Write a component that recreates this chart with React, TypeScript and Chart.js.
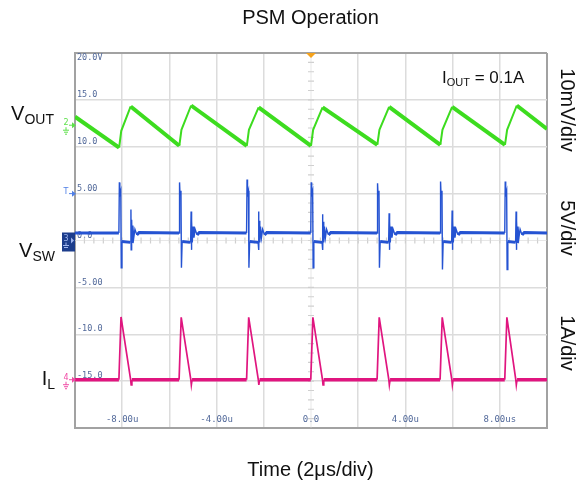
import React, { useEffect, useRef } from 'react';
import { Chart, registerables } from 'chart.js';

Chart.register(...registerables);

// ---- axis settings (oscilloscope screen: 10 x 8 divisions) ----
const xMin = -10;
const xMax = 10;
const yMin = -20;
const yMax = 20;
const xStep = 2;
const yStep = 5;

// tick labels shown on the screen
const xTickValues = [-8, -4, 0, 4, 8];
const xTickLabels = ['-8.00u', '-4.00u', '0.0', '4.00u', '8.00us'];
const yTickValues = [20, 15, 10, 5, 0, -5, -10, -15];
const yTickLabels = ['20.0V', '15.0', '10.0', '5.00', '0.0', '-5.00', '-10.0', '-15.0'];

// ---- traces: [time (us), screen value] ----
const vOutPoints: [number, number][] = [
  [-10, 13.2],
  [-8.13, 9.9], [-8.04, 11.7], [-7.64, 14.3],
  [-5.58, 10.1], [-5.49, 11.8], [-5.08, 14.4],
  [-2.72, 10.1], [-2.63, 11.8], [-2.22, 14.2],
  [0.0, 10.1], [0.09, 11.8], [0.49, 14.2],
  [2.81, 10.2], [2.9, 11.8], [3.31, 14.25],
  [5.48, 10.2], [5.57, 11.8], [5.98, 14.25],
  [8.22, 10.2], [8.31, 11.8], [8.72, 14.4],
  [10, 11.9],
];

const vSwPoints: [number, number][] = [
  [-10, 0.8],
  [-8.14, 0.8], [-8.12, 6.2], [-8.1, 4.9], [-8.06, 5.3], [-8.04, -2.9], [-8.01, -0.1], [-7.65, -0.2],
  [-7.63, 3.3], [-7.62, -1.0], [-7.6, 2.2], [-7.58, -0.2], [-7.55, 1.6], [-7.51, 0.3], [-7.46, 1.2], [-7.38, 0.6], [-7.28, 0.85],
  [-5.59, 0.8], [-5.57, 6.2], [-5.55, 4.9], [-5.51, 5.3], [-5.49, -2.9], [-5.46, -0.1], [-5.1, -0.2],
  [-5.08, 3.1], [-5.07, -1.0], [-5.05, 2.1], [-5.03, -0.2], [-5.0, 1.5], [-4.96, 0.3], [-4.91, 1.2], [-4.83, 0.6], [-4.73, 0.85],
  [-2.73, 0.8], [-2.71, 6.5], [-2.69, 4.9], [-2.65, 5.3], [-2.63, -2.9], [-2.6, -0.1], [-2.24, -0.2],
  [-2.22, 3.1], [-2.21, -1.0], [-2.19, 2.1], [-2.17, -0.2], [-2.14, 1.5], [-2.1, 0.3], [-2.05, 1.2], [-1.97, 0.6], [-1.87, 0.85],
  [-0.01, 0.8], [0.01, 6.2], [0.03, 4.9], [0.07, 5.3], [0.09, -2.9], [0.12, -0.1], [0.47, -0.2],
  [0.49, 2.8], [0.5, -1.0], [0.52, 2.0], [0.54, -0.2], [0.57, 1.5], [0.61, 0.3], [0.66, 1.2], [0.74, 0.6], [0.84, 0.85],
  [2.8, 0.8], [2.82, 6.1], [2.84, 4.9], [2.88, 5.3], [2.9, -2.9], [2.93, -0.1], [3.29, -0.2],
  [3.31, 2.9], [3.32, -1.0], [3.34, 2.0], [3.36, -0.2], [3.39, 1.5], [3.43, 0.3], [3.48, 1.2], [3.56, 0.6], [3.66, 0.85],
  [5.47, 0.8], [5.49, 6.3], [5.51, 4.9], [5.55, 5.3], [5.57, -3.1], [5.6, -0.1], [5.96, -0.2],
  [5.98, 3.2], [5.99, -1.0], [6.01, 2.1], [6.03, -0.2], [6.06, 1.5], [6.1, 0.3], [6.15, 1.2], [6.23, 0.6], [6.33, 0.85],
  [8.21, 0.8], [8.23, 6.3], [8.25, 4.9], [8.29, 5.3], [8.31, -3.1], [8.34, -0.1], [8.67, -0.2],
  [8.69, 3.1], [8.7, -1.0], [8.72, 2.1], [8.74, -0.2], [8.77, 1.5], [8.81, 0.3], [8.86, 1.2], [8.94, 0.6], [9.04, 0.85],
  [10, 0.8],
];

const iLPoints: [number, number][] = [
  [-10, -14.85],
  [-8.14, -14.85], [-8.05, -8.15], [-7.64, -14.9], [-7.62, -15.4], [-7.59, -14.85],
  [-5.59, -14.85], [-5.5, -8.2], [-5.09, -14.9], [-5.07, -15.4], [-5.04, -14.85],
  [-2.73, -14.85], [-2.64, -8.2], [-2.23, -14.9], [-2.21, -15.4], [-2.18, -14.85],
  [-0.01, -14.85], [0.08, -8.2], [0.49, -14.9], [0.51, -15.4], [0.54, -14.85],
  [2.8, -14.85], [2.89, -8.2], [3.3, -14.9], [3.32, -15.4], [3.35, -14.85],
  [5.47, -14.85], [5.56, -8.2], [5.97, -14.9], [5.99, -15.4], [6.02, -14.85],
  [8.21, -14.85], [8.3, -8.2], [8.68, -14.9], [8.7, -15.4], [8.73, -14.85],
  [10, -14.85],
];

// channel reference markers (screen levels)
const vOutMarkerLevel = 12.3;
const triggerLevel = 5;
const vSwMarkerLevel = 0;
const iLMarkerLevel = -14.85;

// ---- styles ----
const GREEN = '#3ddc1f';
const BLUE = '#2553d2';
const PINK = '#e0157f';
const GRID = '#dcdcdc';
const FRAME = '#a2a2a2';
const TICK_TEXT = '#52699a';
const SANS = "'Liberation Sans', Arial, Helvetica, sans-serif";

function slopeWidth(thick: number, thin: number) {
  return (ctx: any) => {
    const p0 = ctx.p0.parsed;
    const p1 = ctx.p1.parsed;
    const dx = Math.abs(p1.x - p0.x) || 1e-6;
    const slope = Math.abs(p1.y - p0.y) / dx;
    return slope < 4 ? thick : thin;
  };
}

const scopeDecor = {
  id: 'scopeDecor',
  beforeDatasetsDraw(chart: any) {
    const { ctx, scales } = chart;
    const x = scales.x;
    const y = scales.y;
    const cx = x.getPixelForValue(0);
    const cy = y.getPixelForValue(0);
    ctx.save();
    ctx.strokeStyle = '#cfcfcf';
    ctx.lineWidth = 1.2;
    ctx.beginPath();
    for (let v = yMin + 1; v < yMax; v += 1) {
      const py = y.getPixelForValue(v);
      ctx.moveTo(cx - 3, py);
      ctx.lineTo(cx + 3, py);
    }
    for (let k = 1; k < 50; k++) {
      const px = x.getPixelForValue(xMin + k * 0.4);
      ctx.moveTo(px, cy - 3);
      ctx.lineTo(px, cy + 3);
    }
    ctx.stroke();
    ctx.strokeStyle = 'rgba(215,215,215,0.6)';
    ctx.lineWidth = 1;
    ctx.beginPath();
    ctx.moveTo(cx, chart.chartArea.top);
    ctx.lineTo(cx, chart.chartArea.bottom);
    ctx.moveTo(chart.chartArea.left, cy);
    ctx.lineTo(chart.chartArea.right, cy);
    ctx.stroke();
    ctx.restore();
  },
  afterDraw(chart: any) {
    const { ctx, scales, chartArea } = chart;
    const x = scales.x;
    const y = scales.y;
    const left = chartArea.left;
    ctx.save();
    // trigger position marker at top
    const tx = x.getPixelForValue(0);
    ctx.fillStyle = '#f5a21c';
    ctx.beginPath();
    ctx.moveTo(tx - 5, chartArea.top);
    ctx.lineTo(tx + 5, chartArea.top);
    ctx.lineTo(tx, chartArea.top + 5);
    ctx.closePath();
    ctx.fill();

    const marker = (level: number, color: string, label: string, ground: boolean) => {
      const py = y.getPixelForValue(level);
      ctx.fillStyle = color;
      ctx.strokeStyle = color;
      ctx.lineWidth = 1;
      ctx.font = '8px "DejaVu Sans", sans-serif';
      ctx.textAlign = 'center';
      ctx.textBaseline = 'middle';
      ctx.fillText(label, left - 9, py - 2);
      ctx.beginPath();
      ctx.moveTo(left - 6, py);
      ctx.lineTo(left - 2, py);
      ctx.stroke();
      ctx.beginPath();
      ctx.moveTo(left + 1, py);
      ctx.lineTo(left - 3, py - 3);
      ctx.lineTo(left - 3, py + 3);
      ctx.closePath();
      ctx.fill();
      if (ground) {
        ctx.beginPath();
        ctx.moveTo(left - 9, py + 2);
        ctx.lineTo(left - 9, py + 5);
        ctx.moveTo(left - 12, py + 5);
        ctx.lineTo(left - 6, py + 5);
        ctx.moveTo(left - 11, py + 7);
        ctx.lineTo(left - 7, py + 7);
        ctx.moveTo(left - 10, py + 9);
        ctx.lineTo(left - 8, py + 9);
        ctx.stroke();
      }
    };

    marker(vOutMarkerLevel, '#5de04a', '2', true);
    marker(triggerLevel, '#4f7fe6', 'T', false);

    // channel 3 boxed marker
    const p3 = y.getPixelForValue(vSwMarkerLevel);
    ctx.fillStyle = '#1c3d8c';
    ctx.fillRect(left - 13, p3 - 8, 13, 19);
    ctx.fillStyle = '#9fb6ee';
    ctx.strokeStyle = '#9fb6ee';
    ctx.font = '8px "DejaVu Sans", sans-serif';
    ctx.textAlign = 'center';
    ctx.textBaseline = 'middle';
    ctx.fillText('3', left - 9, p3 - 2);
    ctx.lineWidth = 1;
    ctx.beginPath();
    ctx.moveTo(left - 9, p3 + 2);
    ctx.lineTo(left - 9, p3 + 5);
    ctx.moveTo(left - 12, p3 + 5);
    ctx.lineTo(left - 6, p3 + 5);
    ctx.moveTo(left - 11, p3 + 7);
    ctx.lineTo(left - 7, p3 + 7);
    ctx.stroke();
    ctx.beginPath();
    ctx.moveTo(left - 1, p3);
    ctx.lineTo(left - 4, p3 - 3);
    ctx.lineTo(left - 4, p3 + 3);
    ctx.closePath();
    ctx.fill();

    marker(iLMarkerLevel, '#f04aa5', '4', true);
    ctx.restore();
  },
};

export default function App() {
  const canvasRef = useRef<HTMLCanvasElement>(null);

  useEffect(() => {
    const canvas = canvasRef.current;
    if (!canvas) return;
    const toXY = (pts: [number, number][]) => pts.map(([x, y]) => ({ x, y }));
    const chart = new Chart(canvas, {
      type: 'line',
      data: {
        datasets: [
          {
            label: 'VOUT',
            data: toXY(vOutPoints),
            borderColor: GREEN,
            borderWidth: 4,
            pointRadius: 0,
            tension: 0,
            segment: { borderWidth: slopeWidth(4, 2) },
          },
          {
            label: 'VSW',
            data: toXY(vSwPoints),
            borderColor: BLUE,
            borderWidth: 3,
            pointRadius: 0,
            tension: 0,
            segment: { borderWidth: slopeWidth(3, 1.4) },
          },
          {
            label: 'IL',
            data: toXY(iLPoints),
            borderColor: PINK,
            borderWidth: 3.5,
            pointRadius: 0,
            tension: 0,
            segment: { borderWidth: slopeWidth(3.5, 1.7) },
          },
        ],
      },
      options: {
        animation: false,
        responsive: false,
        maintainAspectRatio: false,
        events: [],
        layout: { padding: { left: 75, top: 53, right: 37, bottom: 58 } },
        plugins: {
          legend: { display: false },
          tooltip: { enabled: false },
          title: { display: false },
        },
        scales: {
          x: {
            type: 'linear',
            min: xMin,
            max: xMax,
            afterFit: (s: any) => {
              s.height = 0;
            },
            border: { display: true, color: FRAME, width: 2 },
            grid: {
              drawTicks: false,
              color: (c: any) =>
                c.tick.value === 0 ? 'rgba(0,0,0,0)' : c.tick.value === xMin || c.tick.value === xMax ? FRAME : GRID,
              lineWidth: (c: any) => (c.tick.value === xMin || c.tick.value === xMax ? 2 : 1.5),
            },
            ticks: {
              stepSize: xStep,
              autoSkip: false,
              maxRotation: 0,
              minRotation: 0,
              mirror: true,
              padding: 3,
              color: TICK_TEXT,
              font: { family: "'DejaVu Sans Mono', monospace", size: 9, lineHeight: 1.2 },
              callback: (value: any) => {
                const i = xTickValues.indexOf(Number(value));
                return i >= 0 ? xTickLabels[i] : '';
              },
            },
          },
          y: {
            type: 'linear',
            min: yMin,
            max: yMax,
            afterFit: (s: any) => {
              s.width = 0;
            },
            border: { display: true, color: FRAME, width: 2 },
            grid: {
              drawTicks: false,
              color: (c: any) =>
                c.tick.value === 0 ? 'rgba(0,0,0,0)' : c.tick.value === yMin || c.tick.value === yMax ? FRAME : GRID,
              lineWidth: (c: any) => (c.tick.value === yMin || c.tick.value === yMax ? 2 : 1.5),
            },
            ticks: {
              stepSize: yStep,
              autoSkip: false,
              mirror: true,
              padding: 2,
              labelOffset: -5,
              color: TICK_TEXT,
              font: { family: "'DejaVu Sans Mono', monospace", size: 8.5, lineHeight: 1.18 },
              callback: (value: any) => {
                const v = Number(value);
                const i = yTickValues.indexOf(v);
                if (i < 0) return '';
                if (v === yMax) return ['', '', yTickLabels[i]];
                return yTickLabels[i];
              },
            },
          },
        },
      },
      plugins: [scopeDecor],
    } as any);
    return () => chart.destroy();
  }, []);

  const big: React.CSSProperties = {
    position: 'absolute',
    fontFamily: SANS,
    fontSize: 20,
    lineHeight: '20px',
    color: '#111',
    whiteSpace: 'nowrap',
  };
  const sub: React.CSSProperties = { fontSize: 14, verticalAlign: '-4px' };
  const rot = (centerY: number): React.CSSProperties => ({
    ...big,
    left: 567.5 - 60,
    top: centerY - 12,
    width: 120,
    height: 24,
    lineHeight: '24px',
    textAlign: 'center',
    transform: 'rotate(90deg)',
    transformOrigin: '50% 50%',
  });

  return (
    <div
      style={{
        position: 'absolute',
        left: 0,
        top: 0,
        width: 584,
        height: 486,
        overflow: 'hidden',
        background: '#fff',
      }}
    >
      <canvas ref={canvasRef} width={584} height={486} style={{ position: 'absolute', left: 0, top: 0 }} />
      <div style={{ ...big, left: 160, width: 301, top: 7, textAlign: 'center' }}>PSM Operation</div>
      <div style={{ ...big, left: 160, width: 301, top: 459, textAlign: 'center' }}>Time (2μs/div)</div>
      <div style={{ ...big, right: 530, top: 103 }}>
        V<span style={sub}>OUT</span>
      </div>
      <div style={{ ...big, right: 529, top: 240 }}>
        V<span style={sub}>SW</span>
      </div>
      <div style={{ ...big, right: 529, top: 368 }}>
        I<span style={sub}>L</span>
      </div>
      <div style={{ ...big, left: 442, top: 69, fontSize: 17, lineHeight: '17px' }}>
        I<span style={{ fontSize: 11, verticalAlign: '-3px' }}>OUT</span> = 0.1A
      </div>
      <div style={rot(110)}>10mV/div</div>
      <div style={rot(228)}>5V/div</div>
      <div style={rot(343)}>1A/div</div>
    </div>
  );
}
